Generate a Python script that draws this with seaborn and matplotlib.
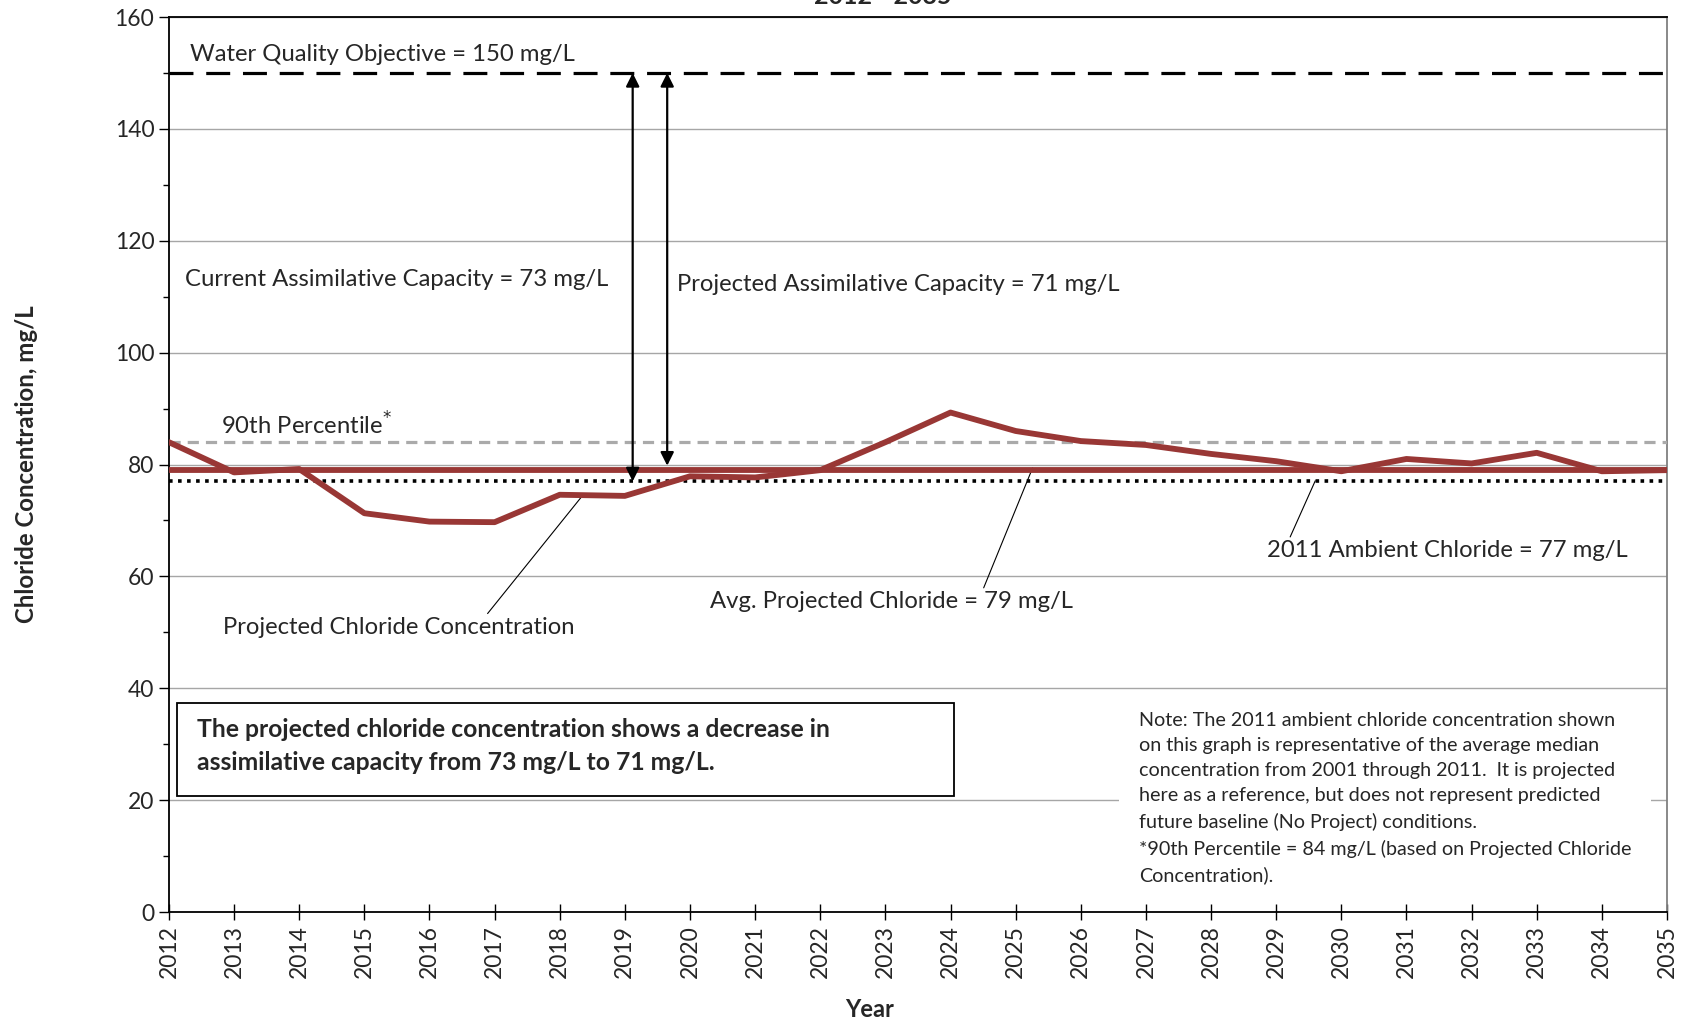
import numpy as np
import pandas as pd
import seaborn as sns
import matplotlib.pyplot as plt
from matplotlib.patches import Rectangle
from matplotlib.ticker import MultipleLocator

# data
years = list(range(2012, 2036))
projected = [84.0, 78.6, 79.2, 71.3, 69.8, 69.7, 74.6, 74.4, 77.9, 77.7, 79.0, 84.0,
             89.3, 86.0, 84.2, 83.5, 81.9, 80.6, 78.8, 81.0, 80.2, 82.1, 78.8, 79.0]
wqo = 150
pct90 = 84
avg_projected = 79
ambient_2011 = 77

RED = '#993735'

df = pd.DataFrame({'Year': years, 'Chloride': projected})

sns.set_theme(style='white')
plt.rcParams['font.family'] = ['Lato', 'DejaVu Sans']

fig = plt.figure(figsize=(16.91, 10.21), dpi=100)
ax = fig.add_axes([0.0999, 0.1067, 0.8859, 0.8766])

# grid
ax.set_ylim(0, 160)
ax.set_xlim(years[0], years[-1])
ax.yaxis.set_major_locator(MultipleLocator(20))
ax.yaxis.set_minor_locator(MultipleLocator(10))
ax.set_xticks(years)
ax.grid(axis='y', which='major', color='#a6a6a6', lw=1.0, zorder=0)

# reference lines
ax.axhline(wqo, color='black', lw=2.3, dashes=(7.5, 4.0), zorder=3)
ax.axhline(pct90, color='#aaaaaa', lw=2.3, dashes=(3.5, 2.2), zorder=3)
ax.axhline(ambient_2011, color='black', lw=2.6, dashes=(1.0, 1.5), zorder=3)
ax.axhline(avg_projected, color=RED, lw=4.2, zorder=4, solid_capstyle='butt')

sns.lineplot(data=df, x='Year', y='Chloride', color=RED, lw=4.2, ax=ax, zorder=5)

# assimilative capacity arrows
arrow_x = [2019.12, 2019.65]
arrow_low = [ambient_2011, avg_projected + 0.8]
for xa, lo in zip(arrow_x, arrow_low):
    ax.annotate('', xy=(xa, lo), xytext=(xa, wqo),
                arrowprops=dict(arrowstyle='<|-|>', color='black', lw=1.6,
                                mutation_scale=20, shrinkA=0, shrinkB=0), zorder=6)

fs = 17.2
ax.text(2012.33, 153.3, 'Water Quality Objective = 150 mg/L', fontsize=fs, va='center')
ax.text(2012.25, 113.0, 'Current Assimilative Capacity = 73 mg/L', fontsize=fs, va='center')
ax.text(2019.8, 112.2, 'Projected Assimilative Capacity = 71 mg/L', fontsize=fs, va='center')
ax.text(2012.8, 87.0, '90th Percentile$^{*}$', fontsize=fs, va='center')

ax.annotate('Projected Chloride Concentration', xy=(2018.36, 74.6), xytext=(2012.83, 50.9),
            fontsize=fs, va='center',
            arrowprops=dict(arrowstyle='-', color='black', lw=0.8, shrinkA=0, shrinkB=0,
                            relpos=(0.745, 1.0)))
ax.annotate('Avg. Projected Chloride = 79 mg/L', xy=(2025.26, 79.4), xytext=(2020.31, 55.5),
            fontsize=fs, va='center',
            arrowprops=dict(arrowstyle='-', color='black', lw=0.8, shrinkA=0, shrinkB=0,
                            relpos=(0.75, 1.0)))
ax.annotate('2011 Ambient Chloride = 77 mg/L', xy=(2029.6, 77.1), xytext=(2028.86, 64.6),
            fontsize=fs, va='center',
            arrowprops=dict(arrowstyle='-', color='black', lw=0.8, shrinkA=0, shrinkB=0,
                            relpos=(0.06, 1.0)))

# summary box
ax.add_patch(Rectangle((2012.13, 20.8), 11.92, 16.6, facecolor='white',
                       edgecolor='black', lw=1.3, zorder=6))
ax.text(2012.43, 29.7,
        'The projected chloride concentration shows a decrease in\n'
        'assimilative capacity from 73 mg/L to 71 mg/L.',
        fontsize=17.8, fontweight='bold', va='center', linespacing=1.5, zorder=7)

note = ('Note: The 2011 ambient chloride concentration shown\n'
        'on this graph is representative of the average median\n'
        'concentration from 2001 through 2011.  It is projected\n'
        'here as a reference, but does not represent predicted\n'
        'future baseline (No Project) conditions.\n'
        '*90th Percentile = 84 mg/L (based on Projected Chloride\n'
        'Concentration).')
ax.text(2026.89, 35.8, note, fontsize=14.2, va='top', linespacing=1.58, zorder=7,
        bbox=dict(facecolor='white', edgecolor='none', pad=14))

# axes styling
for s in ['left', 'bottom', 'top']:
    ax.spines[s].set_color('black')
    ax.spines[s].set_linewidth(1.3)
ax.spines['right'].set_color('#808080')
ax.spines['right'].set_linewidth(1.3)

ax.tick_params(axis='y', which='major', direction='out', length=7, width=1,
               labelsize=16.5, left=True, color='black')
ax.tick_params(axis='y', which='minor', direction='out', length=4, width=1,
               left=True, color='black')
ax.tick_params(axis='x', which='major', direction='inout', length=12, width=1,
               labelsize=16.5, bottom=True, color='black', labelrotation=90)

ax.set_xlabel('Year', fontsize=17, fontweight='bold', labelpad=14)
ax.xaxis.label.set_x(0.468)
ax.set_ylabel('Chloride Concentration, mg/L', fontsize=17.3, fontweight='bold', labelpad=55)

fig.text(0.522, 0.996, '2012 - 2035', fontsize=18, fontweight='bold', ha='center',
         va='baseline')

fig.savefig('out.png', dpi=100)
